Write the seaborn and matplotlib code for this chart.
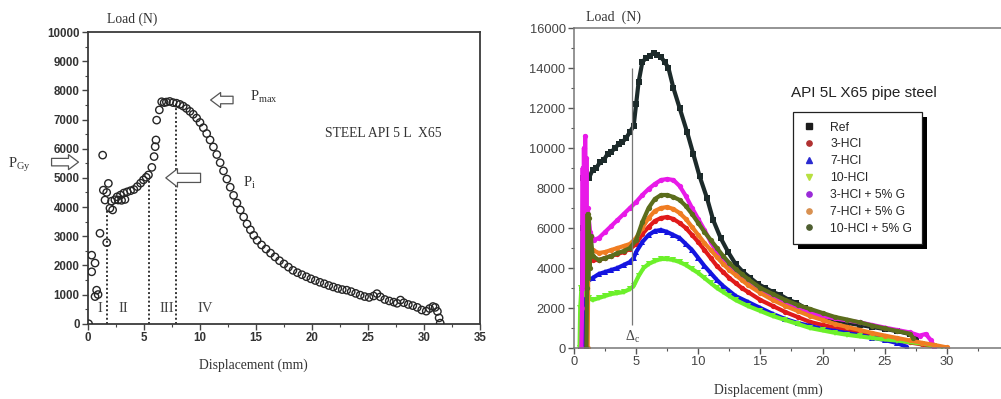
import matplotlib
matplotlib.use("Agg")
import matplotlib.pyplot as plt
import seaborn as sns
import pandas as pd
from matplotlib.patches import Rectangle
from matplotlib.lines import Line2D
from matplotlib.ticker import MultipleLocator

# ---------------- data: left panel (STEEL API 5 L X65) ----------------
left_x = [0.05, 0.33, 0.63, 0.33, 0.77, 0.63, 0.9, 1.07, 1.31, 1.37, 1.52, 1.67, 1.82, 1.67,
          1.96, 2.2, 2.1, 2.4, 2.7, 3.0, 3.3, 2.6, 2.9, 3.2, 3.5, 3.8, 4.1, 4.4, 4.7, 4.95,
          5.2, 5.4, 5.7, 5.9, 6.0, 6.07, 6.13, 6.37, 6.58, 6.8,
          7.0, 7.3, 7.6, 7.9, 8.2, 8.5, 8.8, 9.1, 9.4, 9.7, 10.0, 10.3, 10.6, 10.9, 11.2,
          11.5, 11.8, 12.1, 12.4, 12.7, 13.0, 13.3, 13.6, 13.9, 14.2, 14.5, 14.8, 15.1,
          15.5, 15.9, 16.3, 16.7, 17.1, 17.5, 17.9, 18.3, 18.7, 19.1, 19.5, 19.9, 20.3,
          20.7, 21.1, 21.5, 21.9, 22.3, 22.7, 23.1, 23.5, 23.9, 24.3, 24.7, 25.1, 25.5,
          25.8, 26.1, 26.5, 26.9, 27.3, 27.6, 27.9, 28.2, 28.6, 29.0, 29.4, 29.8, 30.2,
          30.5, 30.8, 31.0, 31.2, 31.35, 31.45]
left_y = [0, 2350, 2080, 1780, 1150, 930, 1000, 3100, 5780, 4580, 4240, 4500, 4810, 2780,
          3960, 3900, 4200, 4250, 4240, 4230, 4260, 4350, 4410, 4480, 4520, 4560, 4600, 4700, 4820, 4930,
          5020, 5100, 5360, 5730, 6070, 6300, 6980, 7330, 7610, 7580,
          7600, 7620, 7580, 7560, 7520, 7460, 7380, 7280, 7180, 7050, 6900, 6720, 6520, 6300, 6060,
          5800, 5520, 5240, 4960, 4680, 4400, 4140, 3900, 3660, 3420, 3220, 3030, 2860,
          2700, 2560, 2420, 2290, 2160, 2050, 1940, 1830, 1750, 1680, 1610, 1540, 1480,
          1420, 1370, 1310, 1260, 1210, 1170, 1150, 1100, 1040, 980, 930, 900, 950,
          1030, 920, 830, 780, 740, 700, 810, 720, 660, 620, 560, 470, 430,
          520, 590, 560, 420, 200, 20]
stage_x = [1.67, 5.47, 7.86]
stage_top = [3900, 4900, 7550]
stage_labels = ["I", "II", "III", "IV"]
stage_label_x = [1.07, 3.2, 7.0, 10.45]

# ---------------- data: right panel (API 5L X65 pipe steel) ----------------
series_names = ["Ref", "3-HCl", "7-HCl", "10-HCl", "3-HCl + 5% G", "7-HCl + 5% G", "10-HCl + 5% G"]

ref_x = [0.6, 0.65, 0.7, 0.75, 0.85, 1.0, 1.2, 1.5, 1.8, 2.1, 2.4, 2.7, 3.0, 3.3, 3.6, 3.9, 4.2, 4.5,
         4.8, 5.0, 5.2, 5.5, 5.8, 6.1, 6.4, 6.7, 7.0, 7.3, 7.6, 8.0, 8.5, 9.1, 9.6, 10.1, 10.7,
         11.2, 11.8, 12.4, 13.0, 13.6, 14.2, 14.8, 15.4, 16.0, 16.6, 17.3, 17.9, 18.6, 19.3,
         20.0, 21.0, 22.0, 23.0, 24.0, 25.0, 26.0, 27.0, 27.5]
ref_y = [0, 3000, 6000, 8500, 9300, 8800, 8500, 8900, 9000, 9300, 9400, 9700, 9800, 10000, 10200,
         10300, 10500, 10800, 11100, 12200, 13300, 14300, 14500, 14600, 14750, 14650, 14550,
         14300, 14000, 13000, 12000, 10800, 9700, 8600, 7500, 6400, 5500, 4800, 4200, 3800,
         3500, 3200, 3000, 2800, 2650, 2400, 2250, 2000, 1750, 1600, 1400, 1250, 1150, 1050,
         950, 850, 700, 500]

hcl3_x = [0.9, 0.95, 1.0, 1.2, 1.5, 2.0, 2.5, 3.0, 3.5, 4.0, 4.5, 5.0, 5.5, 6.0, 6.5, 7.0, 7.5,
          8.0, 8.5, 9.0, 9.5, 10.0, 10.5, 11.0, 11.5, 12.0, 12.5, 13.0, 13.5, 14.0, 15.0, 16.0,
          17.0, 18.0, 19.0, 20.0, 21.0, 22.0, 23.0, 24.0, 25.0, 26.0, 27.0, 28.0, 29.0, 30.0]
hcl3_y = [0, 3000, 5000, 4600, 4400, 4400, 4500, 4600, 4700, 4800, 4950, 5200, 5700, 6050, 6350,
          6500, 6550, 6450, 6250, 6000, 5650, 5300, 4900, 4500, 4100, 3800, 3500, 3250, 3000,
          2800, 2400, 2100, 1800, 1550, 1300, 1150, 1020, 900, 780, 650, 530, 400, 280, 180, 80, 0]

hcl7_x = [0.7, 0.75, 0.8, 1.0, 1.5, 2.0, 2.5, 3.0, 3.5, 4.0, 4.5, 4.8, 5.0, 5.5, 6.0, 6.5, 7.0,
          7.5, 8.0, 8.5, 9.0, 9.5, 10.0, 10.5, 11.0, 11.5, 12.0, 12.5, 13.0, 14.0, 15.0, 16.0,
          17.0, 18.0, 19.0, 20.0, 21.0, 22.0, 23.0, 24.0, 25.0, 26.0, 26.8]
hcl7_y = [0, 2500, 3500, 3300, 3500, 3700, 3800, 3900, 4000, 4150, 4300, 4500, 4800, 5300, 5650,
          5850, 5900, 5800, 5650, 5500, 5200, 4900, 4500, 4100, 3750, 3400, 3100, 2850, 2600,
          2300, 2000, 1700, 1450, 1250, 1100, 950, 850, 740, 640, 520, 400, 250, 50]

hcl10_x = [0.45, 0.5, 0.6, 0.8, 1.2, 1.5, 2.0, 2.5, 3.0, 3.5, 4.0, 4.5, 4.8, 5.2, 5.6, 6.0, 6.5,
           7.0, 7.5, 8.0, 8.5, 9.0, 9.5, 10.0, 10.5, 11.0, 11.5, 12.0, 12.5, 13.0, 14.0, 15.0,
           16.0, 17.0, 18.0, 19.0, 20.0, 21.0, 22.0, 23.0, 24.0, 25.0, 26.0, 27.0, 28.0, 29.0, 29.6]
hcl10_y = [0, 2000, 3000, 2700, 2500, 2400, 2500, 2600, 2700, 2750, 2800, 2950, 3100, 3600, 4000,
           4200, 4350, 4450, 4450, 4400, 4300, 4150, 3950, 3750, 3500, 3250, 3000, 2800, 2600,
           2400, 2100, 1850, 1600, 1400, 1200, 1000, 880, 760, 660, 580, 500, 430, 370, 300,
           220, 120, 0]

hcl3g_x = [0.6, 0.65, 0.7, 0.75, 0.8, 0.85, 0.9, 0.95, 1.0, 1.05, 1.1, 1.3, 1.6, 2.0, 2.5, 3.0,
           3.5, 4.0, 4.5, 5.0, 5.5, 6.0, 6.5, 7.0, 7.5, 8.0, 8.5, 9.0, 9.5, 10.0, 10.5, 11.0,
           11.5, 12.0, 12.5, 13.0, 13.5, 14.0, 15.0, 16.0, 17.0, 18.0, 19.0, 20.0, 21.0, 22.0,
           23.0, 24.0, 25.0, 26.0, 27.0, 27.8, 28.3, 28.7, 29.0]
hcl3g_y = [0, 2000, 9000, 3000, 10000, 5000, 10600, 6000, 9500, 5500, 7000, 5800, 5400, 5500,
           5800, 6100, 6400, 6700, 7000, 7300, 7650, 7950, 8200, 8400, 8450, 8400, 8100, 7600,
           7000, 6450, 5900, 5300, 4800, 4400, 4100, 3750, 3450, 3200, 2800, 2500, 2200, 1950,
           1750, 1600, 1480, 1380, 1280, 1150, 1020, 900, 780, 620, 700, 400, 50]

hcl7g_x = [1.1, 1.15, 1.2, 1.5, 2.0, 2.5, 3.0, 3.5, 4.0, 4.5, 5.0, 5.5, 6.0, 6.5, 7.0, 7.5, 8.0,
           8.5, 9.0, 9.5, 10.0, 10.5, 11.0, 11.5, 12.0, 12.5, 13.0, 13.5, 14.0, 15.0, 16.0, 17.0,
           18.0, 19.0, 20.0, 21.0, 22.0, 23.0, 24.0, 25.0, 26.0, 27.0, 28.0, 29.0, 30.0]
hcl7g_y = [0, 4000, 5200, 4900, 4750, 4800, 4900, 5000, 5100, 5200, 5500, 6000, 6500, 6850, 7000,
           7050, 6950, 6750, 6450, 6050, 5650, 5250, 4900, 4550, 4200, 3900, 3650, 3400, 3150,
           2750, 2400, 2100, 1850, 1600, 1400, 1200, 1050, 900, 750, 620, 500, 380, 260, 150, 30]

hcl10g_x = [1.0, 1.05, 1.1, 1.15, 1.2, 1.25, 1.35, 1.5, 2.0, 2.5, 3.0, 3.5, 4.0, 4.5, 5.0, 5.5,
            6.0, 6.5, 7.0, 7.5, 8.0, 8.5, 9.0, 9.5, 10.0, 10.5, 11.0, 11.5, 12.0, 12.5, 13.0,
            13.5, 14.0, 15.0, 16.0, 17.0, 18.0, 19.0, 20.0, 21.0, 22.0, 23.0, 24.0, 25.0, 26.0,
            27.0, 27.3]
hcl10g_y = [0, 3000, 6700, 3500, 6500, 4000, 5600, 4600, 4400, 4500, 4600, 4750, 4850, 5000, 5400,
            6300, 7000, 7450, 7650, 7650, 7550, 7400, 7100, 6700, 6250, 5800, 5400, 5000, 4600,
            4250, 3950, 3700, 3450, 3000, 2700, 2400, 2150, 1950, 1750, 1550, 1420, 1280, 1120,
            980, 850, 720, 500]

series_x = [ref_x, hcl3_x, hcl7_x, hcl10_x, hcl3g_x, hcl7g_x, hcl10g_x]
series_y = [ref_y, hcl3_y, hcl7_y, hcl10_y, hcl3g_y, hcl7g_y, hcl10g_y]
series_colors = ["#1c2a2a", "#e01a1a", "#1414e0", "#6cf02a", "#e81ae8", "#f07d22", "#5b6d1c"]
legend_colors = ["#1c1c1c", "#b03030", "#2a2ad0", "#b8e040", "#9a2ad8", "#d89050", "#4e5e30"]
series_markers = ["s", "o", "^", "v", "o", "o", "o"]
delta_c = 4.64
delta_c_range = [1150, 14000]

# ---------------- figure ----------------
sns.set_theme(style="white")
plt.rcParams["font.family"] = ["Liberation Serif", "DejaVu Sans"]
plt.rcParams["mathtext.fontset"] = "custom"
plt.rcParams["mathtext.rm"] = "Liberation Serif"
plt.rcParams["mathtext.it"] = "Liberation Serif"

fig = plt.figure(figsize=(10.01, 3.99), dpi=100)
ax1 = fig.add_axes([0.0879, 0.1887, 0.3916, 0.731])
ax2 = fig.add_axes([0.5734, 0.1278, 0.4346, 0.802])

# ---- left panel ----
sns.scatterplot(x=left_x, y=left_y, ax=ax1, marker="o", s=28, facecolors="none",
                edgecolor="#262626", linewidth=1.0, zorder=3)
ax1.vlines(stage_x, 0, stage_top, colors="#333333", linestyles=(0, (1, 1.2)), linewidth=1.4)
for lab, lx in zip(stage_labels, stage_label_x):
    ax1.text(lx, 530, lab, ha="center", va="center", fontsize=10.5, color="#444444")
ax1.set_xlim(0, 35)
ax1.set_ylim(0, 10000)
ax1.xaxis.set_major_locator(MultipleLocator(5))
ax1.xaxis.set_minor_locator(MultipleLocator(2.5))
ax1.yaxis.set_major_locator(MultipleLocator(1000))
ax1.yaxis.set_minor_locator(MultipleLocator(500))
ax1.tick_params(which="both", direction="out", left=True, bottom=True, color="#444444")
ax1.tick_params(which="major", length=4, width=1, labelsize=8.3, pad=2)
ax1.tick_params(which="minor", length=2.5, width=0.8)
for lbl in ax1.get_xticklabels() + ax1.get_yticklabels():
    lbl.set_family("Liberation Sans")
    lbl.set_fontweight("bold")
    lbl.set_color("#333333")
for sp in ax1.spines.values():
    sp.set_color("#3a3a3a")
    sp.set_linewidth(1.3)
ax1.set_xlabel("")
ax1.set_ylabel("")

arrow_kw = dict(arrowstyle="simple,head_length=0.6,head_width=0.9,tail_width=0.45",
                fc="white", ec="#555555", lw=0.9)
ax1.annotate("", xy=(10.7, 7670), xytext=(13.2, 7670), arrowprops=arrow_kw)
ax1.annotate("", xy=(6.7, 5000), xytext=(10.3, 5000),
             arrowprops=dict(arrowstyle="simple,head_length=0.7,head_width=1.1,tail_width=0.55",
                             fc="white", ec="#555555", lw=0.9))
ax1.annotate("", xy=(-0.6, 5540), xytext=(-3.5, 5540), arrowprops=arrow_kw, annotation_clip=False)
ax1.text(14.5, 7780, r"$\mathregular{P_{max}}$", fontsize=10.5, ha="left", va="center", color="#333333")
ax1.text(13.8, 4830, r"$\mathregular{P_{i}}$", fontsize=10.5, ha="left", va="center", color="#333333")
ax1.text(-7.1, 5450, r"$\mathregular{P_{Gy}}$", fontsize=10.5, ha="left", va="center",
         color="#333333", clip_on=False)
ax1.text(21.2, 6530, "STEEL API 5 L  X65", fontsize=9.8, ha="left", va="center", color="#333333")

fig.text(132 / 1001, 1 - 19 / 399, "Load (N)", ha="center", va="center", fontsize=9.8, color="#333333")
fig.text(253 / 1001, 1 - 365 / 399, "Displacement (mm)", ha="center", va="center", fontsize=9.8,
         color="#333333")

# ---- right panel ----
frames = []
for name, xs, ys in zip(series_names, series_x, series_y):
    frames.append(pd.DataFrame({"x": xs, "y": ys, "series": name}))
df = pd.concat(frames, ignore_index=True)
sns.lineplot(data=df, x="x", y="y", hue="series", hue_order=series_names,
             palette=dict(zip(series_names, series_colors)),
             style="series", style_order=series_names,
             markers=dict(zip(series_names, series_markers)), dashes=False,
             sort=False, estimator=None, units="series", linewidth=3.0, markersize=3.8,
             markeredgewidth=0, legend=False, ax=ax2)

ax2.vlines(delta_c, delta_c_range[0], delta_c_range[1], colors="#777777", linewidth=0.9, zorder=5)
ax2.text(delta_c + 0.1, 550, r"$\mathregular{\Delta_c}$", fontsize=10, ha="center", va="center",
         color="#444444")
ax2.text(23.3, 12750, "API 5L X65 pipe steel", fontsize=11, ha="center", va="center",
         family="Liberation Sans", color="#222222")

ax2.set_xlim(0, 35)
ax2.set_ylim(0, 16000)
ax2.xaxis.set_major_locator(MultipleLocator(5))
ax2.xaxis.set_minor_locator(MultipleLocator(2.5))
ax2.yaxis.set_major_locator(MultipleLocator(2000))
ax2.yaxis.set_minor_locator(MultipleLocator(1000))
ax2.tick_params(which="both", direction="out", left=True, bottom=True, color="#555555")
ax2.tick_params(which="major", length=4, width=1, labelsize=9.3, pad=2)
ax2.tick_params(which="minor", length=2.5, width=0.8)
for lbl in ax2.get_xticklabels() + ax2.get_yticklabels():
    lbl.set_family("Liberation Sans")
    lbl.set_color("#444444")
for sp in ax2.spines.values():
    sp.set_color("#777777")
    sp.set_linewidth(1.1)
ax2.set_xlabel("")
ax2.set_ylabel("")

handles = [Line2D([], [], linestyle="none", marker=m, color=c, markersize=3.8)
           for m, c in zip(series_markers, legend_colors)]
leg = ax2.legend(handles, series_names, loc="upper left",
                 bbox_to_anchor=(793 / 1001, 1 - 112 / 399), bbox_transform=fig.transFigure,
                 prop={"family": "Liberation Sans", "size": 8.7}, frameon=True, fancybox=False,
                 framealpha=1, edgecolor="#222222", borderpad=0.8, labelspacing=0.4,
                 handlelength=1.0, handletextpad=1.3, borderaxespad=0)
leg.get_frame().set_linewidth(0.9)
leg.set_zorder(6)
fig.canvas.draw()
bb = leg.get_window_extent()
shadow = Rectangle((bb.x0 + 5, bb.y0 - 5), bb.width, bb.height, transform=None,
                   facecolor="black", edgecolor="none", zorder=5.5, clip_on=False)
ax2.add_artist(shadow)

fig.text(614 / 1001, 1 - 17 / 399, "Load  (N)", ha="center", va="center", fontsize=10, color="#333333")
fig.text(768 / 1001, 1 - 390 / 399, "Displacement (mm)", ha="center", va="center", fontsize=9.8,
         color="#333333")

fig.savefig("out.png", dpi=100)
